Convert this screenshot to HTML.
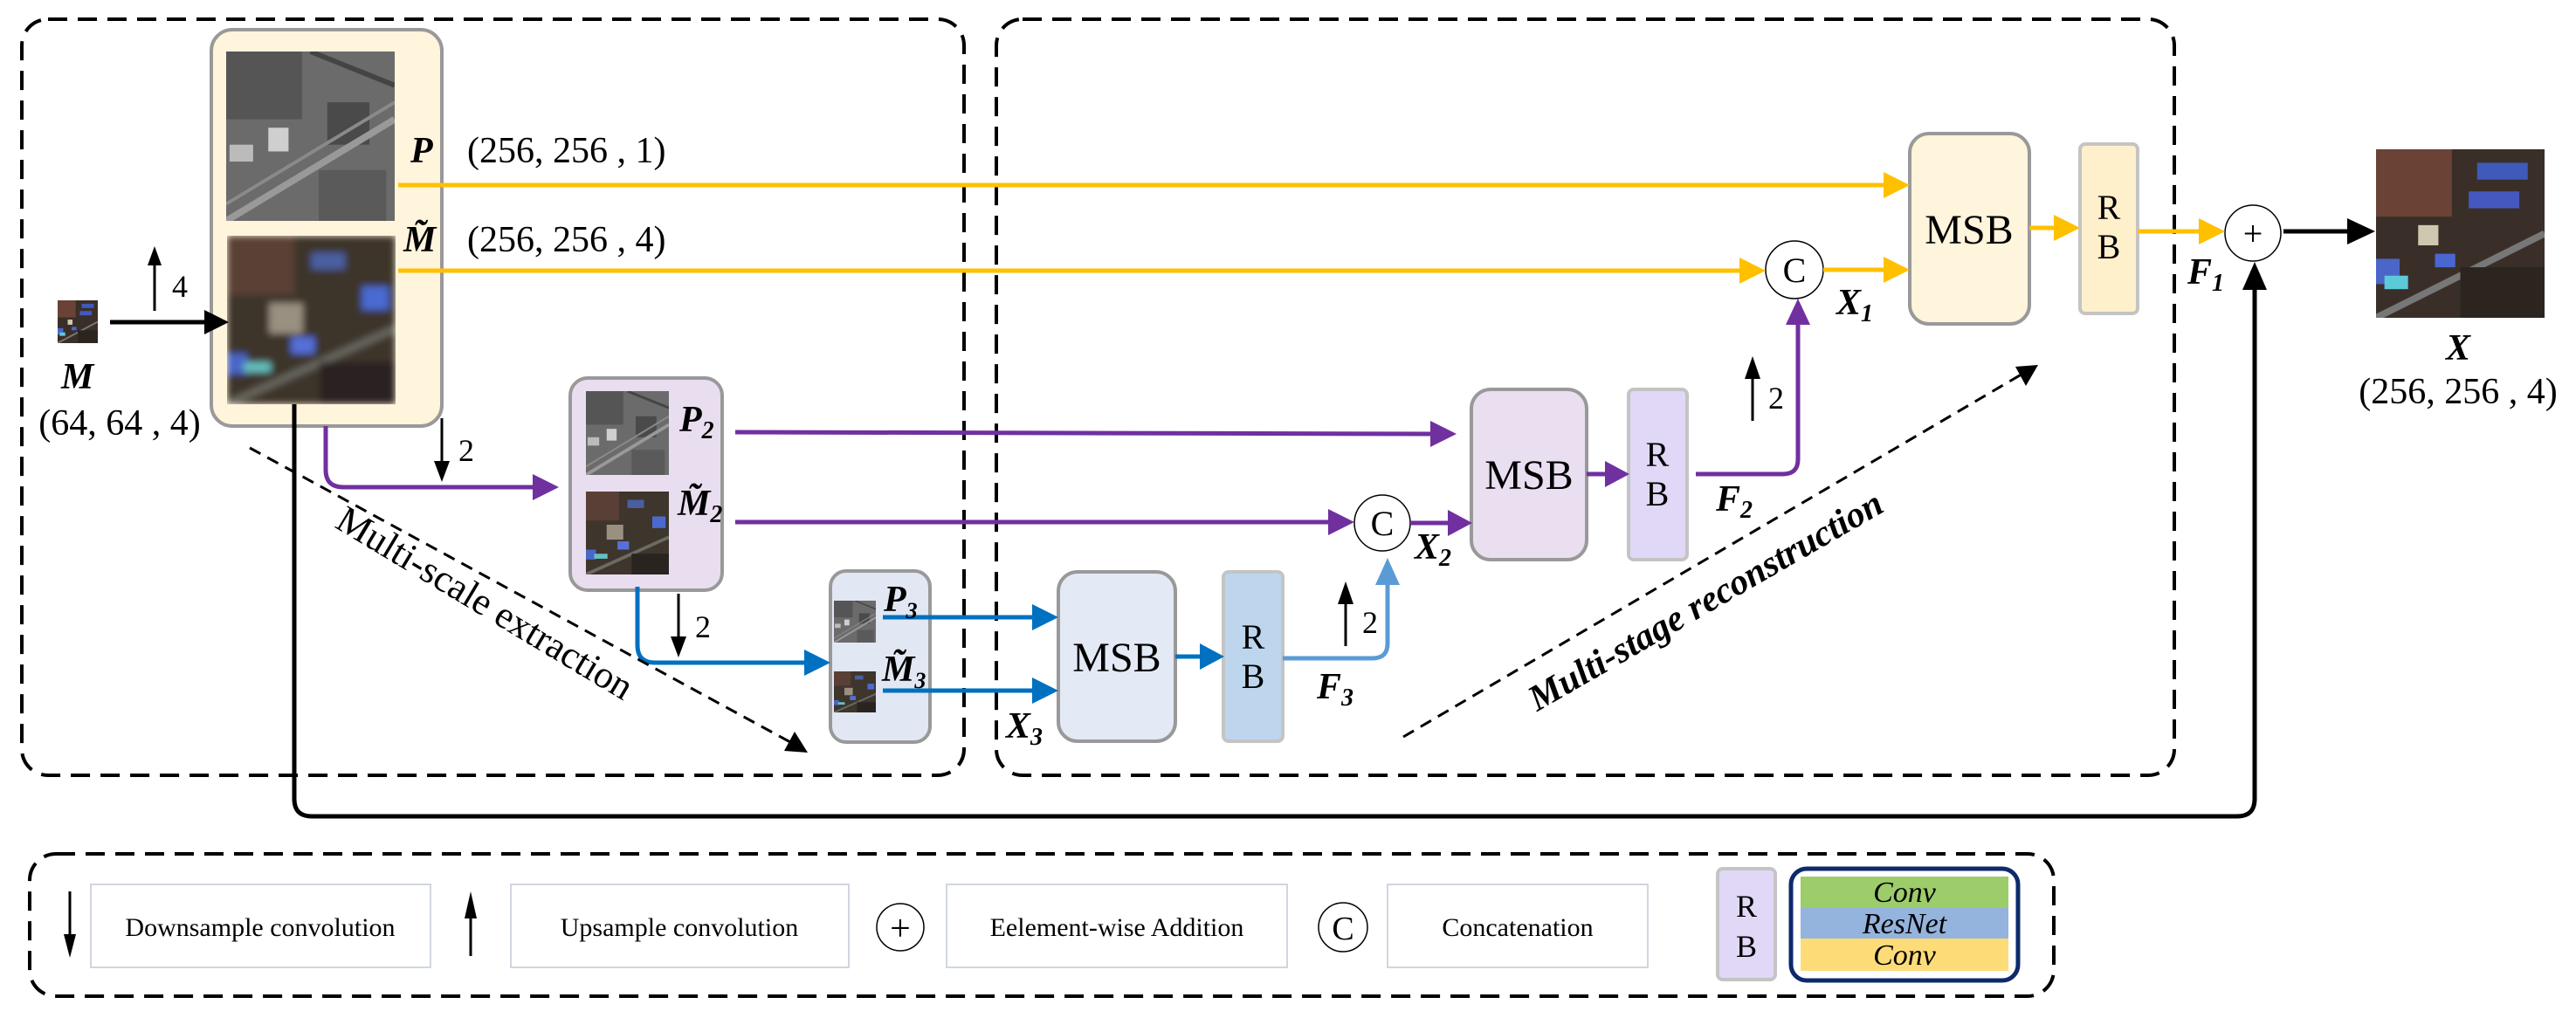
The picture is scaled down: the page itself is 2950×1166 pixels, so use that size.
<!DOCTYPE html>
<html><head><meta charset="utf-8"><style>
html,body{margin:0;padding:0;background:#fff;}
svg{display:block}
text{font-family:"Liberation Serif",serif;}
.bi{font-weight:bold;font-style:italic}
.it{font-style:italic}
</style></head><body>
<svg width="2950" height="1166" viewBox="0 0 2950 1166" xmlns="http://www.w3.org/2000/svg" font-family="Liberation Serif, serif">
<defs>
<filter id="bl"><feGaussianBlur stdDeviation="4"/></filter>
<symbol id="gray" viewBox="0 0 100 100" preserveAspectRatio="none">
<rect width="100" height="100" fill="#6b6b6b"/>
<rect x="0" y="0" width="45" height="40" fill="#555"/>
<rect x="25" y="45" width="12" height="14" fill="#cfcfcf"/>
<rect x="2" y="55" width="14" height="10" fill="#bbb"/>
<rect x="60" y="30" width="25" height="25" fill="#4a4a4a"/>
<path d="M0 100 L100 40" stroke="#999" stroke-width="4"/>
<path d="M0 90 L100 30" stroke="#8a8a8a" stroke-width="2"/>
<path d="M50 0 L100 20" stroke="#444" stroke-width="3"/>
<rect x="55" y="70" width="40" height="30" fill="#5a5a5a"/>
</symbol>
<symbol id="color" viewBox="0 0 100 100" preserveAspectRatio="none">
<rect width="100" height="100" fill="#3e352c"/>
<rect x="0" y="0" width="40" height="35" fill="#5a3f36"/>
<rect x="50" y="10" width="20" height="10" fill="#4a5ea0"/>
<rect x="80" y="30" width="16" height="14" fill="#4a6ad0"/>
<rect x="38" y="60" width="14" height="10" fill="#5570d8"/>
<rect x="0" y="70" width="12" height="12" fill="#4a66c8"/>
<rect x="10" y="75" width="16" height="6" fill="#66c0c0"/>
<rect x="25" y="40" width="20" height="18" fill="#9a9080"/>
<path d="M0 100 L100 55" stroke="#6b6b62" stroke-width="4"/>
<rect x="55" y="75" width="45" height="25" fill="#2a2420"/>
</symbol>
<symbol id="colorsharp" viewBox="0 0 100 100" preserveAspectRatio="none">
<rect width="100" height="100" fill="#3a2f28"/>
<rect x="0" y="0" width="45" height="40" fill="#6a4236"/>
<rect x="60" y="8" width="30" height="10" fill="#3f5ab8"/>
<rect x="55" y="25" width="30" height="10" fill="#4458c0"/>
<rect x="25" y="45" width="12" height="12" fill="#cfc8b0"/>
<rect x="0" y="65" width="14" height="15" fill="#4a66c8"/>
<rect x="5" y="75" width="14" height="8" fill="#5ccad8"/>
<rect x="35" y="62" width="12" height="8" fill="#4a66d0"/>
<path d="M0 100 L100 50" stroke="#777" stroke-width="4"/>
<rect x="50" y="70" width="50" height="30" fill="#2c251f"/>
</symbol>
</defs>

<g fill="none" stroke="#000" stroke-width="4" stroke-dasharray="22,12">
<rect x="25" y="22" width="1079" height="866" rx="30"/>
<rect x="1141" y="22" width="1349" height="866" rx="30"/>
<rect x="34" y="978" width="2318" height="163" rx="30"/>
</g>

<rect x="242" y="34" width="264" height="454" rx="24" fill="#fff4dc" stroke="#999" stroke-width="4"/>
<use href="#gray" x="259" y="59" width="193" height="194"/>
<svg x="260" y="270" width="193" height="193"><use href="#color" x="0" y="0" width="193" height="193" filter="url(#bl)"/></svg>
<use href="#colorsharp" x="66" y="344" width="46" height="49"/>

<rect x="653" y="433" width="174" height="243" rx="20" fill="#e9deef" stroke="#999" stroke-width="4"/>
<use href="#gray" x="671" y="448" width="95" height="96"/>
<use href="#color" x="671" y="563" width="95" height="95"/>
<rect x="951" y="654" width="114" height="196" rx="18" fill="#e1e7f3" stroke="#999" stroke-width="4"/>
<use href="#gray" x="955" y="688" width="48" height="48"/>
<use href="#color" x="955" y="769" width="48" height="47"/>

<use href="#colorsharp" x="2721" y="171" width="193" height="193"/>

<rect x="2187" y="153" width="137" height="218" rx="22" fill="#fff4dc" stroke="#999" stroke-width="4"/>
<rect x="2382" y="165" width="66" height="194" rx="6" fill="#fff0cc" stroke="#c4c4c4" stroke-width="4"/>
<rect x="1685" y="446" width="132" height="195" rx="22" fill="#eadff0" stroke="#999" stroke-width="4"/>
<rect x="1865" y="446" width="67" height="195" rx="6" fill="#e0d8f6" stroke="#c4c4c4" stroke-width="4"/>
<rect x="1212" y="655" width="134" height="194" rx="22" fill="#e3e9f5" stroke="#999" stroke-width="4"/>
<rect x="1401" y="655" width="68" height="194" rx="6" fill="#bdd6ee" stroke="#c4c4c4" stroke-width="4"/>

<g font-size="48" text-anchor="middle">
<text x="2255" y="279">MSB</text>
<text x="1751" y="560">MSB</text>
<text x="1279" y="769">MSB</text>
</g>
<g font-size="40" text-anchor="middle">
<text x="2415" y="251">R</text><text x="2415" y="296">B</text>
<text x="1898" y="534">R</text><text x="1898" y="579">B</text>
<text x="1435" y="743">R</text><text x="1435" y="788">B</text>
</g>

<g fill="#fff" stroke="#000" stroke-width="1.5">
<circle cx="2055" cy="309" r="33"/>
<circle cx="1583" cy="599" r="32"/>
<circle cx="2580" cy="267" r="32"/>
</g>
<g font-size="40" text-anchor="middle">
<text x="2055" y="323">C</text>
<text x="1583" y="613">C</text>
<text x="2580" y="281">+</text>
</g>

<g stroke="#ffc000" stroke-width="5" fill="none">
<line x1="456" y1="212" x2="2160" y2="212"/>
<line x1="456" y1="310" x2="1995" y2="310"/>
<line x1="2088" y1="309" x2="2160" y2="309"/>
<line x1="2324" y1="261" x2="2356" y2="261"/>
<line x1="2448" y1="265" x2="2520" y2="265"/>
</g>
<g fill="#ffc000">
<polygon points="2187,212 2157,197 2157,227"/>
<polygon points="2022,310 1992,295 1992,325"/>
<polygon points="2187,309 2157,294 2157,324"/>
<polygon points="2382,261 2352,246 2352,276"/>
<polygon points="2548,265 2518,250 2518,280"/>
</g>

<g stroke="#7030a0" stroke-width="5" fill="none">
<path d="M373 488 V538 Q373 558 393 558 H612"/>
<line x1="842" y1="495" x2="1640" y2="497"/>
<line x1="842" y1="598" x2="1522" y2="598"/>
<line x1="1615" y1="599" x2="1660" y2="599"/>
<line x1="1817" y1="543" x2="1840" y2="543"/>
<path d="M1942 543 H2042 Q2059 543 2059 526 V370"/>
</g>
<g fill="#7030a0">
<polygon points="640,558 610,543 610,573"/>
<polygon points="1668,497 1638,482 1638,512"/>
<polygon points="1551,598 1521,583 1521,613"/>
<polygon points="1686,599 1658,584 1658,614"/>
<polygon points="1866,543 1838,528 1838,558"/>
<polygon points="2059,342 2045,372 2073,372"/>
</g>

<g stroke="#0070c0" stroke-width="5" fill="none">
<path d="M730 672 V739 Q730 759 750 759 H922"/>
<line x1="1011" y1="707" x2="1185" y2="707"/>
<line x1="1011" y1="791" x2="1185" y2="791"/>
<line x1="1346" y1="752" x2="1376" y2="752"/>
</g>
<g fill="#0070c0">
<polygon points="951,759 921,744 921,774"/>
<polygon points="1212,707 1182,692 1182,722"/>
<polygon points="1212,791 1182,776 1182,806"/>
<polygon points="1402,752 1374,737 1374,767"/>
</g>
<path d="M1469 754 H1572 Q1589 754 1589 737 V668" stroke="#5b9bd5" stroke-width="5" fill="none"/>
<polygon points="1589,639 1575,670 1603,670" fill="#5b9bd5"/>

<g stroke="#000" stroke-width="5" fill="none">
<path d="M337 463 V915 Q337 935 357 935 H2562 Q2582 935 2582 915 V330"/>
<line x1="126" y1="369" x2="235" y2="369"/>
<line x1="2615" y1="265" x2="2690" y2="265"/>
</g>
<g fill="#000">
<polygon points="2582,300 2568,332 2596,332"/>
<polygon points="2720,265 2688,250 2688,280"/>
<polygon points="262,369 234,355 234,383"/>
</g>
<g stroke="#000" stroke-width="3">
<line x1="177" y1="300" x2="177" y2="356"/>
<line x1="506" y1="479" x2="506" y2="530"/>
<line x1="777" y1="680" x2="777" y2="732"/>
<line x1="1541" y1="690" x2="1541" y2="740"/>
<line x1="2007" y1="430" x2="2007" y2="482"/>
<line x1="80" y1="1021" x2="80" y2="1075"/>
<line x1="539" y1="1050" x2="539" y2="1095"/>
</g>
<g fill="#000">
<polygon points="177,282 169,304 185,304"/>
<polygon points="506,552 497,528 515,528"/>
<polygon points="777,753 768,729 786,729"/>
<polygon points="1541,666 1532,692 1550,692"/>
<polygon points="2007,408 1998,434 2016,434"/>
<polygon points="80,1097 73,1070 87,1070"/>
<polygon points="539,1021 532,1052 546,1052"/>
</g>
<g font-size="36">
<text x="197" y="340">4</text>
<text x="525" y="528">2</text>
<text x="796" y="730">2</text>
<text x="1560" y="725">2</text>
<text x="2025" y="468">2</text>
</g>

<g stroke="#000" stroke-width="3" stroke-dasharray="14,9" fill="none">
<line x1="286" y1="513" x2="905" y2="850"/>
<line x1="1607" y1="844" x2="2318" y2="427"/>
</g>
<polygon points="925,862 898,860 910,838" fill="#000"/>
<polygon points="2334,418 2308,420 2320,442" fill="#000"/>
<text x="548" y="703" font-size="44" text-anchor="middle" transform="rotate(31 548 703)">Multi-scale extraction</text>
<text x="1960" y="700" font-size="42" class="bi" text-anchor="middle" transform="rotate(-30 1960 700)">Multi-stage reconstruction</text>

<g font-size="42">
<text x="470" y="186" class="bi">P</text>
<text x="462" y="288" class="bi">M&#771;</text>
<text x="535" y="186">(256, 256 , 1)</text>
<text x="535" y="288">(256, 256 , 4)</text>
<text x="70" y="445" class="bi">M</text>
<text x="137" y="498" text-anchor="middle">(64, 64 , 4)</text>
<text x="2815" y="412" text-anchor="middle" class="bi">X</text>
<text x="2815" y="462" text-anchor="middle">(256, 256 , 4)</text>
<text x="778" y="494" class="bi">P<tspan font-size="28" dy="8">2</tspan></text>
<text x="776" y="590" class="bi">M&#771;<tspan font-size="28" dy="8">2</tspan></text>
<text x="1012" y="700" class="bi">P<tspan font-size="26" dy="8">3</tspan></text>
<text x="1010" y="780" class="bi">M&#771;<tspan font-size="26" dy="8">3</tspan></text>
<text x="2103" y="360" class="bi">X<tspan font-size="28" dy="8">1</tspan></text>
<text x="2505" y="325" class="bi">F<tspan font-size="28" dy="8">1</tspan></text>
<text x="1965" y="585" class="bi">F<tspan font-size="28" dy="8">2</tspan></text>
<text x="1620" y="640" class="bi">X<tspan font-size="28" dy="8">2</tspan></text>
<text x="1508" y="800" class="bi">F<tspan font-size="28" dy="8">3</tspan></text>
<text x="1152" y="845" class="bi">X<tspan font-size="28" dy="8">3</tspan></text>
</g>

<g fill="#fff" stroke="#d0d6e0" stroke-width="2">
<rect x="104" y="1013" width="389" height="95"/>
<rect x="585" y="1013" width="387" height="95"/>
<rect x="1084" y="1013" width="390" height="95"/>
<rect x="1589" y="1013" width="298" height="95"/>
</g>
<g font-size="30" text-anchor="middle">
<text x="298" y="1072">Downsample convolution</text>
<text x="778" y="1072">Upsample convolution</text>
<text x="1279" y="1072">Eelement-wise Addition</text>
<text x="1738" y="1072">Concatenation</text>
</g>
<circle cx="1031" cy="1062" r="27" fill="#fff" stroke="#000" stroke-width="1.5"/>
<text x="1031" y="1077" font-size="42" text-anchor="middle">+</text>
<circle cx="1538" cy="1062" r="28" fill="#fff" stroke="#000" stroke-width="1.5"/>
<text x="1538" y="1076" font-size="38" text-anchor="middle">C</text>
<rect x="1967" y="995" width="66" height="127" rx="6" fill="#e0d8f6" stroke="#c4c4c4" stroke-width="4"/>
<text x="2000" y="1050" font-size="36" text-anchor="middle">R</text>
<text x="2000" y="1096" font-size="36" text-anchor="middle">B</text>
<rect x="2051" y="995" width="260" height="128" rx="18" fill="#fff" stroke="#0e2a6b" stroke-width="5"/>
<rect x="2062" y="1004" width="238" height="36" fill="#9dcc6a"/>
<rect x="2062" y="1040" width="238" height="35" fill="#94b3dd"/>
<rect x="2062" y="1075" width="238" height="37" fill="#fddc78"/>
<g font-size="34" class="it" text-anchor="middle">
<text x="2181" y="1033">Conv</text>
<text x="2181" y="1069">ResNet</text>
<text x="2181" y="1105">Conv</text>
</g>
</svg>
</body></html>
